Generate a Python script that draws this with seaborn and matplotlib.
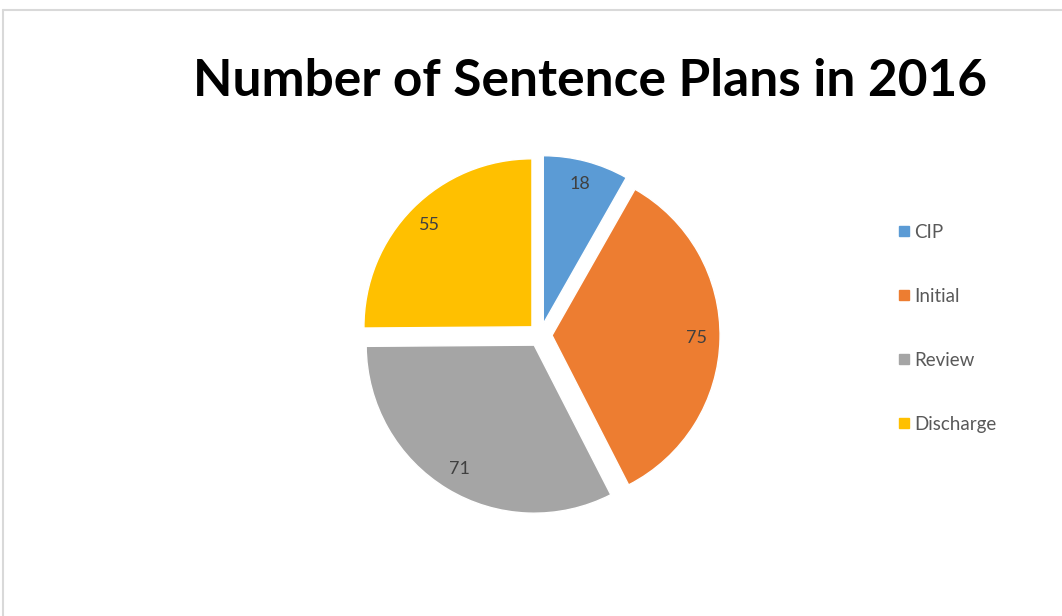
import seaborn as sns
import matplotlib.pyplot as plt
from matplotlib.lines import Line2D

# data
categories = ['CIP', 'Initial', 'Review', 'Discharge']
plan_counts = [18, 75, 71, 55]
slice_colors = ['#5B9BD5', '#ED7D31', '#A5A5A5', '#FFC000']

sns.set_theme(style='white')
plt.rcParams['font.family'] = ['Lato', 'DejaVu Sans']

fig = plt.figure(figsize=(10.62, 6.16), dpi=100)
fig.patch.set_facecolor('white')

# light grey frame (top and left edges visible)
fig.add_artist(Line2D([3 / 1062, 3 / 1062], [0, 1 - 10 / 616], transform=fig.transFigure,
                      color='#D9D9D9', lw=1.5))
fig.add_artist(Line2D([3 / 1062, 1], [1 - 10 / 616, 1 - 10 / 616], transform=fig.transFigure,
                      color='#D9D9D9', lw=1.5))

ax = fig.add_axes([0.311, 0.115, 0.3955, 0.682])
wedges, texts, autotexts = ax.pie(
    plan_counts,
    colors=slice_colors,
    startangle=90,
    counterclock=False,
    explode=[0.07] * len(plan_counts),
    autopct=lambda p: '{:.0f}'.format(p * sum(plan_counts) / 100),
    pctdistance=0.86,
    textprops={'color': '#404040', 'fontsize': 13},
)
ax.set_aspect('equal')

fig.text(0.556, 0.868, 'Number of Sentence Plans in 2016', ha='center', va='center',
         fontsize=37, fontweight='bold', color='black')

handles = [Line2D([0], [0], marker='s', linestyle='none', markersize=7,
                  markerfacecolor=c, markeredgecolor=c) for c in slice_colors]
leg = fig.legend(handles, categories, loc='center left', bbox_to_anchor=(0.828, 0.467),
                 frameon=False, fontsize=13.5, labelspacing=2.5, handletextpad=0.15,
                 handlelength=0.8)
for t in leg.get_texts():
    t.set_color('#595959')

plt.savefig('out.png', dpi=100)
